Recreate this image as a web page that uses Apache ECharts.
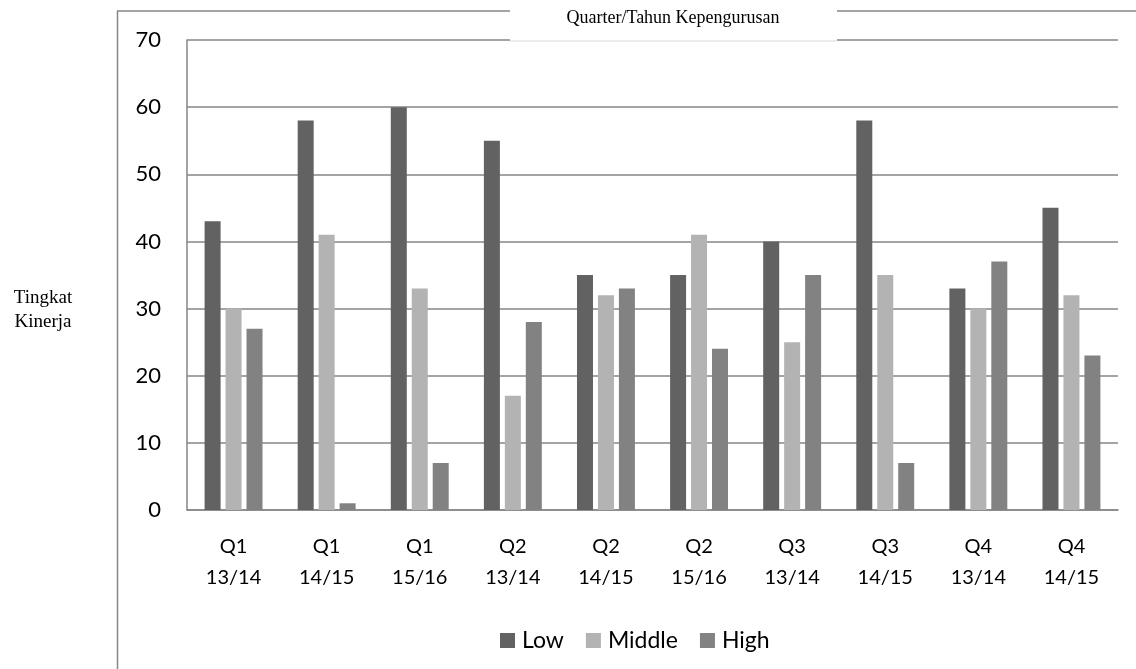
<!DOCTYPE html>
<html>
<head>
<meta charset="utf-8">
<script src="https://cdn.jsdelivr.net/npm/echarts@6/dist/echarts.min.js"></script>
<style>html,body{margin:0;padding:0;background:#fff}#c{width:1136px;height:669px}</style>
</head>
<body>
<div id="c"></div>
<script>
const categories = ['Q1\n13/14','Q1\n14/15','Q1\n15/16','Q2\n13/14','Q2\n14/15','Q2\n15/16','Q3\n13/14','Q3\n14/15','Q4\n13/14','Q4\n14/15'];
const lowValues    = [43, 58, 60, 55, 35, 35, 40, 58, 33, 45];
const middleValues = [30, 41, 33, 17, 32, 41, 25, 35, 30, 32];
const highValues   = [27, 1, 7, 28, 33, 24, 35, 7, 37, 23];
const yTicks = [0, 10, 20, 30, 40, 50, 60, 70];
const titleText = 'Quarter/Tahun Kepengurusan';
const yName = 'Tingkat\nKinerja';

const chart = echarts.init(document.getElementById('c'), null, {renderer: 'canvas'});
const sans = 'Lato';
const gridColor = '#868686';

chart.setOption({
  animation: false,
  backgroundColor: '#ffffff',
  grid: {left: 187, right: 18, top: 40, bottom: 159, containLabel: false},
  legend: {
    left: 495, top: 624,
    itemWidth: 15, itemHeight: 15, itemGap: 22,
    icon: 'rect',
    textStyle: {fontFamily: sans, fontSize: 23, color: '#000', padding: [0,0,0,2]},
    data: ['Low', 'Middle', 'High']
  },
  xAxis: {
    type: 'category',
    data: categories,
    axisLine: {lineStyle: {color: gridColor, width: 1.5}},
    axisTick: {show: false},
    axisLabel: {fontFamily: sans, fontSize: 20, color: '#000', lineHeight: 31, margin: 21, interval: 0}
  },
  yAxis: {
    type: 'value',
    min: yTicks[0], max: yTicks[yTicks.length - 1], interval: 10,
    axisLine: {show: true, lineStyle: {color: gridColor, width: 1.5}},
    axisTick: {show: false},
    splitLine: {lineStyle: {color: gridColor, width: 1.5}},
    axisLabel: {fontFamily: sans, fontSize: 22, color: '#000', margin: 26}
  },
  series: [
    {name: 'Low', type: 'bar', data: lowValues, barWidth: 16, barGap: '31%', itemStyle: {color: '#626262'}},
    {name: 'Middle', type: 'bar', data: middleValues, barWidth: 16, barGap: '31%', itemStyle: {color: '#b3b3b3'}},
    {name: 'High', type: 'bar', data: highValues, barWidth: 16, barGap: '31%', itemStyle: {color: '#828282'}}
  ],
  graphic: [
    {type: 'line', shape: {x1: 117.5, y1: 11, x2: 117.5, y2: 669}, style: {stroke: gridColor, lineWidth: 1.5}, z: 100},
    {type: 'line', shape: {x1: 117, y1: 11, x2: 1136, y2: 11}, style: {stroke: gridColor, lineWidth: 1.5}, z: 100},
    {type: 'rect', shape: {x: 510, y: 4, width: 327, height: 37}, style: {fill: '#ffffff', stroke: null}, z: 101},
    {type: 'line', shape: {x1: 510, y1: 41, x2: 837, y2: 41}, style: {stroke: '#d9d9d9', lineWidth: 1}, z: 102},
    {type: 'text', x: 673, y: 18, style: {text: titleText, font: '18px "Liberation Serif"', fill: '#000', align: 'center', verticalAlign: 'middle'}, z: 103},
    {type: 'text', x: 43, y: 310, style: {text: yName, font: '19px "Liberation Serif"', fill: '#000', align: 'center', verticalAlign: 'middle', lineHeight: 24}, z: 103}
  ]
});
</script>
</body>
</html>
